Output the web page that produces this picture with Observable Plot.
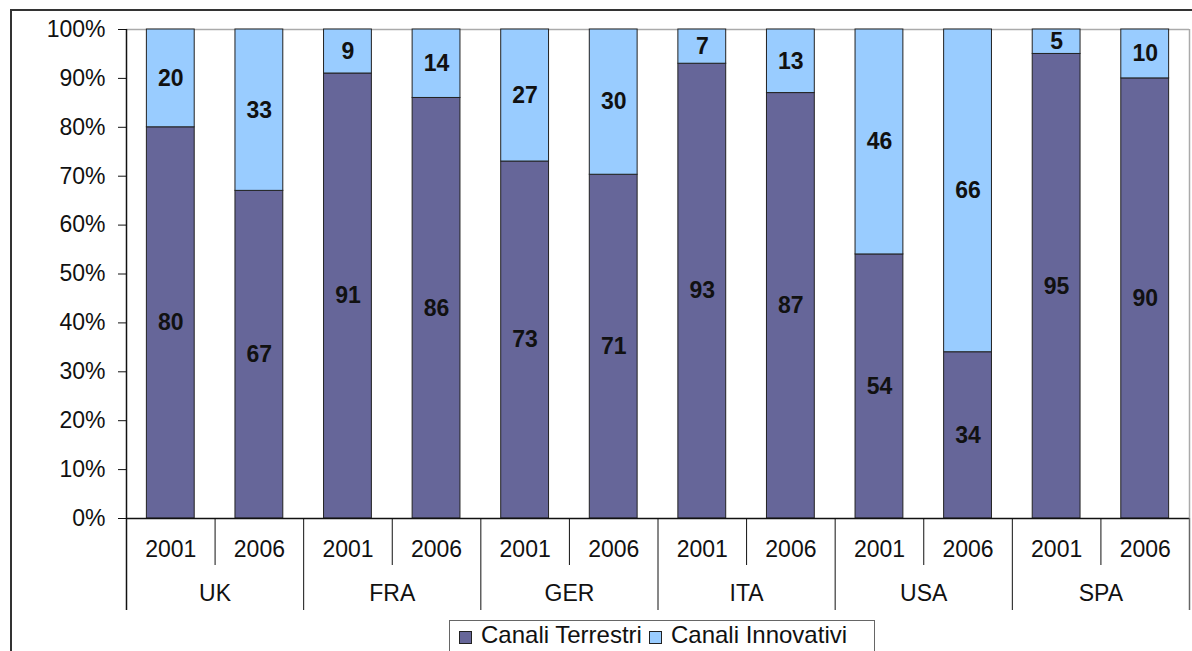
<!DOCTYPE html>
<html>
<head>
<meta charset="utf-8">
<script src="https://cdn.jsdelivr.net/npm/d3@7"></script>
<script src="https://cdn.jsdelivr.net/npm/@observablehq/plot@0.6"></script>
<style>
  body { margin: 0; background: #fff; font-family: "Liberation Sans", Arial, sans-serif; }
  #wrap { position: relative; width: 1192px; height: 651px; overflow: hidden; }
  #frame { position: absolute; left: 10px; top: 9px; width: 1300px; height: 800px; border-left: 2px solid #333; border-top: 2px solid #333; }
  #legend { position: absolute; left: 449px; top: 620px; width: 426px; height: 45px; border: 1px solid #666; box-sizing: border-box; font-size: 24px; color: #111; padding: 0 0 0 9px; white-space: nowrap; background: #fff; }
  #legend .sw { display: inline-block; width: 11px; height: 11px; border: 1px solid #222; margin-right: 9px; vertical-align: -1px; }
  #legend .item { margin-right: 7px; }
  #chart { position: absolute; left: 0; top: 0; }
</style>
</head>
<body>
<div id="wrap">
  <div id="frame"></div>
  <div id="chart"></div>
  <div id="legend"></div>
</div>
<script>
const countries = ["UK", "FRA", "GER", "ITA", "USA", "SPA"];
const years = ["2001", "2006"];
const terrestri = [80, 67, 91, 86, 73, 71, 93, 87, 54, 34, 95, 90];
const innovativi = [20, 33, 9, 14, 27, 30, 7, 13, 46, 66, 5, 10];
const seriesNames = ["Canali Terrestri", "Canali Innovativi"];
const seriesColors = ["#666699", "#99CCFF"];
const yTicks = [0, 0.1, 0.2, 0.3, 0.4, 0.5, 0.6, 0.7, 0.8, 0.9, 1];

const keys = [];
countries.forEach(c => years.forEach(y => keys.push(c + " " + y)));
const rows = [];
keys.forEach((k, i) => {
  rows.push({key: k, series: seriesNames[0], value: terrestri[i]});
  rows.push({key: k, series: seriesNames[1], value: innovativi[i]});
});
const slots = keys.map(k => ({key: k, country: k.split(" ")[0], year: k.split(" ")[1]}));

const W = 1192, H = 651, mL = 126, mR = 3, mT = 29, mB = 133;
const step = (W - mL - mR) / keys.length;
const font = "Liberation Sans, Arial, sans-serif";
const fs = 23;

const chart = Plot.plot({
  width: W, height: H,
  marginLeft: mL, marginRight: mR, marginTop: mT, marginBottom: mB,
  style: {fontFamily: font, background: "transparent"},
  x: {domain: keys, paddingInner: 0.46, paddingOuter: 0.23, round: false, axis: null},
  y: {domain: [0, 1], axis: null},
  color: {domain: seriesNames, range: seriesColors},
  marks: [
    Plot.ruleY([1], {stroke: "#aaa", strokeWidth: 1.5}),
    Plot.ruleX(slots.slice(-1), {x: "key", dx: step / 2, stroke: "#aaa", strokeWidth: 1.5}),
    Plot.barY(rows, Plot.stackY({offset: "normalize", x: "key", y: "value", z: "series", fill: "series", stroke: "#222", strokeWidth: 1})),
    Plot.text(rows, Plot.stackY({offset: "normalize", x: "key", y: "value", z: "series", text: d => String(d.value), fontSize: fs, fontWeight: "bold", fill: "#111"})),
    Plot.ruleY([0], {stroke: "#111", strokeWidth: 1.5}),
    // y axis
    Plot.ruleX(slots.slice(0, 1), {x: "key", dx: -step / 2, stroke: "#111", strokeWidth: 1.5, insetBottom: -92}),
    Plot.axisY({ticks: yTicks, tickFormat: d3.format(".0%"), tickSize: 8, tickPadding: 13, fontSize: fs, label: null, stroke: "#111", fill: "#111"}),
    // year separators
    Plot.ruleX(slots.filter(d => d.year === "2006"), {x: "key", dx: -step / 2, y1: 0, y2: 0, insetBottom: -47, stroke: "#111"}),
    // country separators
    Plot.ruleX(slots.filter(d => d.year === "2001").slice(1), {x: "key", dx: -step / 2, y1: 0, y2: 0, insetBottom: -92, stroke: "#111"}),
    Plot.ruleX(slots.slice(-1), {x: "key", dx: step / 2, y1: 0, y2: 0, insetBottom: -92, stroke: "#666", strokeWidth: 1.5}),
    // year labels
    Plot.text(slots, {x: "key", y: 0, text: "year", dy: 31, fontSize: fs, fill: "#111"}),
    // country labels
    Plot.text(slots.filter(d => d.year === "2006"), {x: "key", y: 0, text: "country", dx: -step / 2, dy: 75, fontSize: fs, fill: "#111"})
  ]
});
document.getElementById("chart").appendChild(chart);

const legend = document.getElementById("legend");
seriesNames.forEach((s, i) => {
  const span = document.createElement("span");
  span.className = "item";
  const sw = document.createElement("span");
  sw.className = "sw";
  sw.style.background = seriesColors[i];
  span.appendChild(sw);
  span.appendChild(document.createTextNode(s));
  legend.appendChild(span);
});
</script>
</body>
</html>
